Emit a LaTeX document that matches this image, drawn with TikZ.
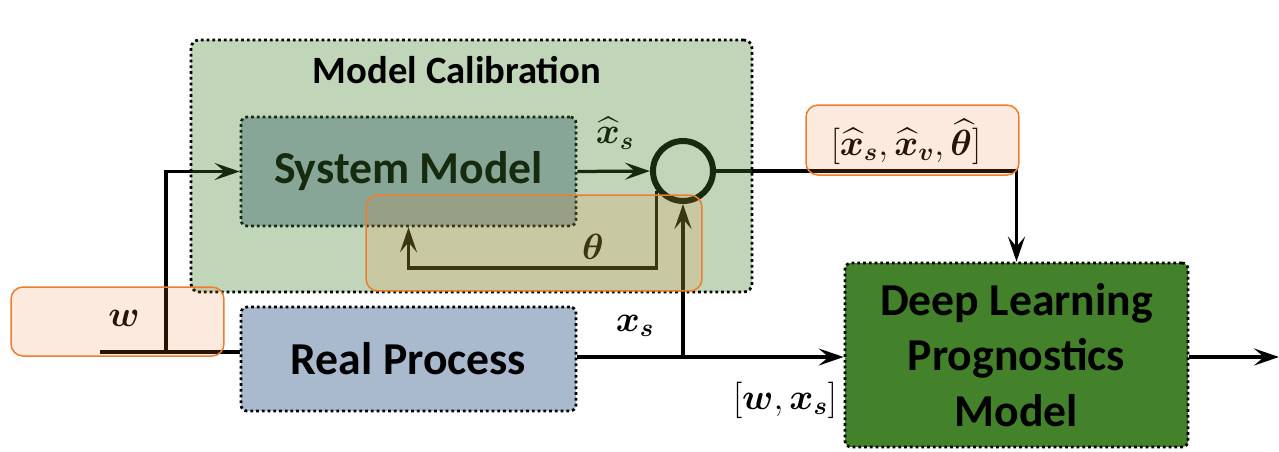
\documentclass[tikz,border=0pt]{standalone}
\usepackage{amsmath,bm}
\usepackage{fontspec}
\setsansfont{Carlito}
\usetikzlibrary{arrows.meta}
\definecolor{dlgreen}{RGB}{67,130,42}
\definecolor{procblue}{RGB}{169,185,206}
\definecolor{hlorange}{RGB}{237,125,49}
\begin{document}
\begin{tikzpicture}[x=0.02cm,y=-0.02cm,
  blk/.style={draw=black, line width=0.055cm, dash pattern=on 0.055cm off 0.06cm,
    rounded corners=0.12cm, font=\sffamily\bfseries\fontsize{26}{31.75}\selectfont,
    align=center, inner sep=0},
  conn/.style={line width=0.065cm, draw=black},
  arr/.style={conn, -{Stealth[length=0.5cm,width=0.34cm,inset=0.2cm]}},
  hl/.style={draw=hlorange, line width=0.03cm, fill=hlorange, fill opacity=0.16,
    rounded corners=0.24cm, inner sep=0},
  mlab/.style={font=\fontsize{21}{24}\selectfont, inner sep=0}
]
\useasboundingbox (0,0) rectangle (1279,451);

% blocks
\node[blk, fill=procblue, minimum width=6.7cm, minimum height=2.18cm] (sm) at (408.5,171.5) {System Model};
\node[blk, fill=procblue, minimum width=6.7cm, minimum height=2.08cm] (rp) at (408.5,359) {Real Process};
\node[blk, fill=dlgreen, minimum width=6.86cm, minimum height=3.68cm] (dl) at (1016.5,355) {Deep Learning\\Prognostics\\Model};
\node[circle, draw=black, line width=0.12cm, minimum size=1.2cm, inner sep=0] (sum) at (683,171) {};

% signal routing points
\coordinate (win) at (100,352);
\coordinate (wj) at (166,352);
\coordinate (xj) at (683,357);
\coordinate (fb) at (408.5,268);
\coordinate (out) at (1279,357);

% connectors
\draw[conn] (win) -- (win -| rp.west);
\draw[arr] (wj) |- (sm.west);
\draw[arr] (sm.east) -- (sum.west);
\draw[arr] (sum.-143) |- (fb) -- (sm.south);
\draw[arr] (sum.east) -| (dl.north);
\draw[arr] (rp.east |- xj) -- (dl.west |- xj);
\draw[arr] (xj) -- (sum.south);
\draw[arr] (dl.east |- out) -- (out);

% labels inside the calibration loop
\node[mlab] (xhat) at (615,133) {$\widehat{\bm{x}}_{\bm{s}}$};
\node[mlab] (th) at (593,247) {$\bm{\theta}$};

% calibration group
\node[draw=black, line width=0.055cm, dash pattern=on 0.055cm off 0.06cm,
  rounded corners=0.16cm, fill=dlgreen, fill opacity=0.33,
  minimum width=11.22cm, minimum height=5.04cm, inner sep=0] (cal) at (471.5,166) {};
\node[font=\sffamily\bfseries\fontsize{22}{26}\selectfont, inner sep=0] (caltitle) at (457,70) {Model Calibration};

% signal labels
\node[mlab] (xs) at (635,326) {$\bm{x}_{\bm{s}}$};
\node[mlab] (wxs) at (785,400) {$[\bm{w},\bm{x}_{\bm{s}}]$};
\node[mlab] (wl) at (124,318) {$\bm{w}$};
\node[mlab] (est) at (906,142) {$[\widehat{\bm{x}}_{\bm{s}},\widehat{\bm{x}}_{\bm{v}},\widehat{\bm{\theta}}]$};

% highlights
\node[hl, minimum width=4.26cm, minimum height=1.38cm] (hlw) at (117.5,321.5) {};
\node[hl, minimum width=4.26cm, minimum height=1.4cm] (hlest) at (912.5,140) {};
\node[hl, minimum width=6.72cm, minimum height=1.92cm] (hlth) at (534,243) {};
\end{tikzpicture}
\end{document}
